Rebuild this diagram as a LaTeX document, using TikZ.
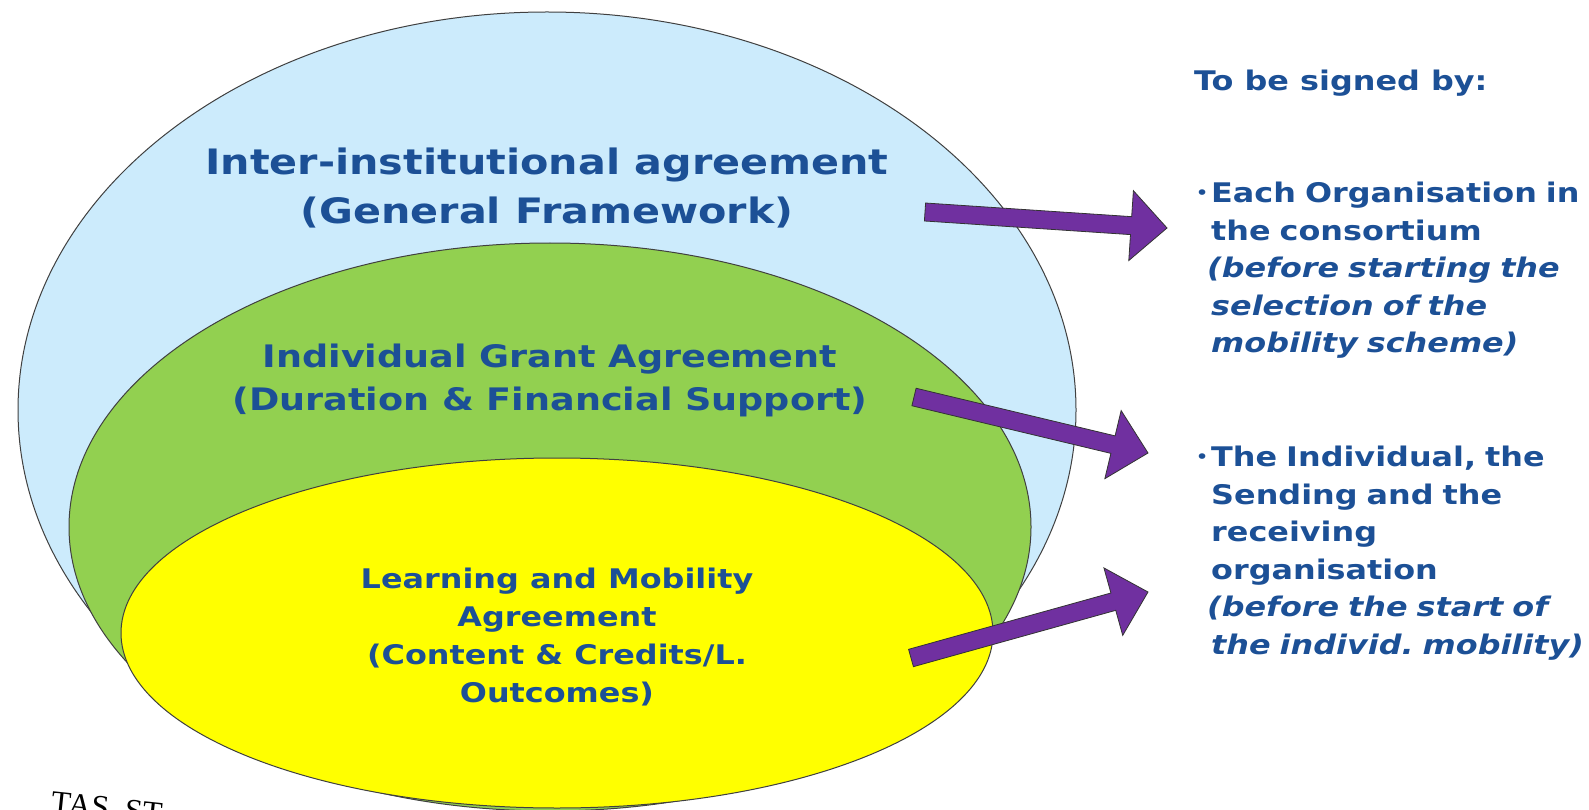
\documentclass[tikz,border=0pt]{standalone}
\usepackage{fontspec}
\setmainfont[FakeStretch=1.18]{DejaVu Sans}
\newfontfamily\serifseal{Liberation Serif}
\usetikzlibrary{calc}
\definecolor{txtblue}{HTML}{1C5096}
\definecolor{ellblue}{HTML}{CCEBFC}
\definecolor{ellgreen}{HTML}{92D050}
\definecolor{ellyellow}{HTML}{FFFF00}
\definecolor{arrpurple}{HTML}{7030A0}
\tikzset{
  ell/.style={draw=black!75, line width=1pt},
  fatarr/.style={fill=arrpurple, draw=black!80, line width=0.8pt, line join=miter},
  bigtxt/.style={text=txtblue, font=\bfseries\fontsize{35}{49}\selectfont, align=center, inner sep=0pt},
  midtxt/.style={text=txtblue, font=\bfseries\fontsize{31}{43}\selectfont, align=center, inner sep=0pt},
  smalltxt/.style={text=txtblue, font=\bfseries\fontsize{27}{38}\selectfont, align=center, inner sep=0pt},
  sidetxt/.style={text=txtblue, font=\bfseries\fontsize{27}{37.5}\selectfont, align=left, anchor=north west, inner sep=0pt},
}
\newcommand{\fatarrow}[2]{%
  \coordinate (#2b) at ($(#2)!36pt!(#1)$);
  \path[fatarr] ($(#1)!9pt!90:(#2)$) -- ($(#2b)!9pt!90:(#2)$) -- ($(#2b)!35pt!90:(#2)$)
    -- (#2) -- ($(#2b)!35pt!-90:(#2)$) -- ($(#2b)!9pt!-90:(#2)$) -- ($(#1)!9pt!-90:(#2)$) -- cycle;}
\begin{document}
\begin{tikzpicture}[x=1pt,y=-1pt]
\useasboundingbox[fill=white] (0,0) rectangle (1589,810);
% ellipses
\path[ell, fill=ellblue] (547,410) ellipse [x radius=529, y radius=398];
\path[ell, fill=ellgreen] (550,527) ellipse [x radius=481, y radius=284];
\path[ell, fill=ellyellow] (557,633) ellipse [x radius=436, y radius=175];
% texts in ellipses
\node[bigtxt] (inter) at (547,188) {Inter-institutional agreement\\(General Framework)};
\node[midtxt] (grant) at (550,380) {Individual Grant Agreement\\(Duration \& Financial Support)};
\node[smalltxt] (learn) at (557,637) {Learning and Mobility\\Agreement\\(Content \& Credits/L.\\Outcomes)};
% right side
\node[sidetxt] (head) at (1194,70) {To be signed by:};
\node[sidetxt, text width=400pt] (list1) at (1196,182) {%
  \makebox[15pt][l]{\fontsize{16}{16}\selectfont\raisebox{4pt}{•}}Each Organisation in\\
  \hspace*{15pt}the consortium\\
  \hspace*{11pt}\itshape (before starting the\\
  \hspace*{15pt}\itshape selection of the\\
  \hspace*{15pt}\itshape mobility scheme)};
\node[sidetxt, text width=400pt] (list2) at (1196,446) {%
  \makebox[15pt][l]{\fontsize{16}{16}\selectfont\raisebox{4pt}{•}}The Individual, the\\
  \hspace*{15pt}Sending and the\\
  \hspace*{15pt}receiving\\
  \hspace*{15pt}organisation\\
  \hspace*{11pt}\itshape (before the start of\\
  \hspace*{15pt}\itshape the individ.\ mobility)};
% arrows
\coordinate (t1) at (925,212);
\coordinate (h1) at (1167,228);
\coordinate (t2) at (914,397);
\coordinate (h2) at (1148,453);
\coordinate (t3) at (911,658);
\coordinate (h3) at (1148,592);
\fatarrow{t1}{h1}
\fatarrow{t2}{h2}
\fatarrow{t3}{h3}
% seal fragment
\node[font=\serifseal\fontsize{32}{32}\selectfont, rotate=-6, anchor=north, inner sep=0pt] (seal) at (108,797) {TAS\ \ ST};
\end{tikzpicture}
\end{document}
